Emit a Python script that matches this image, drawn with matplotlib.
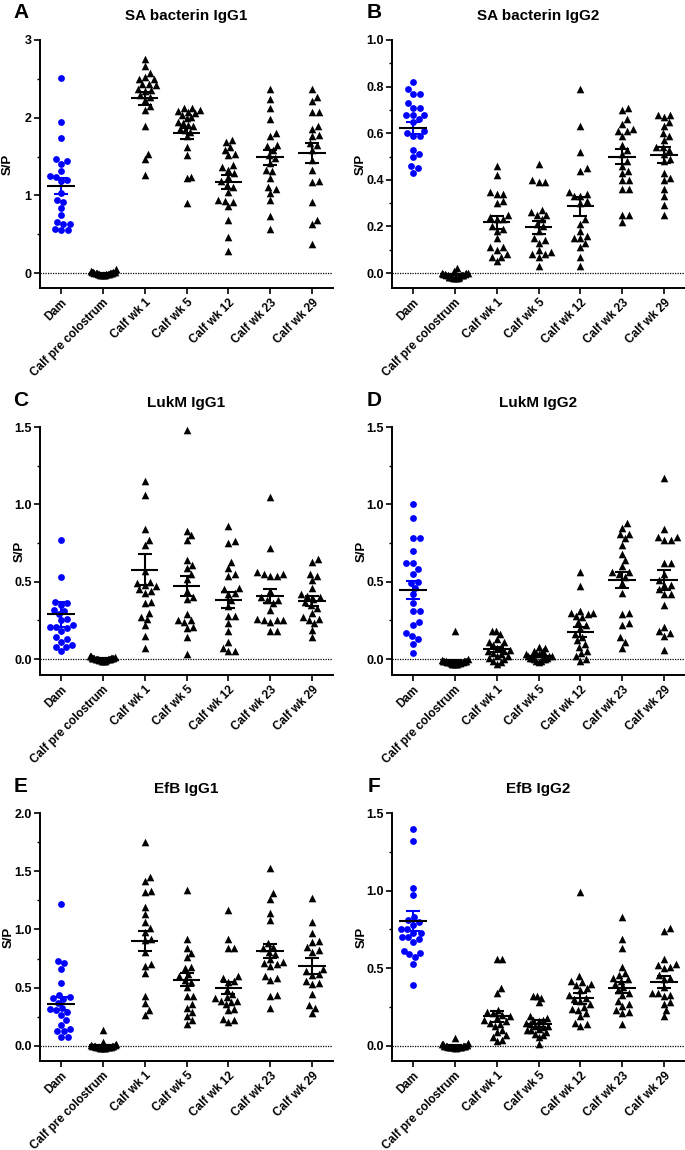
import numpy as np
import matplotlib
matplotlib.use('Agg')
import matplotlib.pyplot as plt
from matplotlib.ticker import MultipleLocator, FormatStrFormatter

plt.rcParams['font.family'] = ['Liberation Sans', 'DejaVu Sans']
plt.rcParams['font.weight'] = 'bold'

# Grupos (eje x)
groups = ['Dam', 'Calf pre colostrum', 'Calf wk 1', 'Calf wk 5',
          'Calf wk 12', 'Calf wk 23', 'Calf wk 29']

# A - SA bacterin IgG1
sa_igg1 = [
    [2.51, 1.95, 1.74, 1.47, 1.45, 1.41, 1.31, 1.25, 1.24, 1.20, 1.18, 1.03, 0.94, 0.92, 0.84, 0.75, 0.66, 0.63, 0.63, 0.57, 0.55, 0.55],
    [0.05, 0.03, 0.02, 0.01, 0.01, 0.01, 0.0, 0.0, 0.0, 0.0, 0.0, 0.0, -0.01, -0.01, -0.01, -0.01, -0.01, -0.02, -0.02, -0.02, -0.02, -0.02],
    [2.75, 2.66, 2.58, 2.52, 2.50, 2.50, 2.44, 2.43, 2.42, 2.37, 2.36, 2.35, 2.29, 2.27, 2.23, 2.15, 2.10, 1.90, 1.54, 1.47, 1.26],
    [2.13, 2.12, 2.10, 2.09, 2.08, 2.06, 2.04, 2.01, 2.00, 1.94, 1.93, 1.91, 1.89, 1.86, 1.84, 1.82, 1.76, 1.63, 1.52, 1.24, 1.23, 0.90],
    [1.72, 1.69, 1.63, 1.59, 1.53, 1.52, 1.39, 1.37, 1.33, 1.29, 1.24, 1.18, 1.14, 1.11, 1.05, 0.94, 0.93, 0.92, 0.86, 0.69, 0.47, 0.28],
    [2.37, 2.24, 2.13, 1.98, 1.80, 1.77, 1.65, 1.64, 1.59, 1.52, 1.48, 1.42, 1.33, 1.31, 1.23, 1.11, 1.08, 1.03, 0.94, 0.73, 0.57],
    [2.37, 2.27, 2.21, 2.08, 2.07, 1.89, 1.86, 1.78, 1.77, 1.67, 1.65, 1.59, 1.46, 1.33, 1.18, 1.17, 0.92, 0.69, 0.63, 0.38],
]
sa_igg1_mean = [1.12, 0.0, 2.25, 1.80, 1.17, 1.49, 1.55]
sa_igg1_sem = [0.105, 0.005, 0.08, 0.07, 0.09, 0.10, 0.13]

# B - SA bacterin IgG2
sa_igg2 = [
    [0.82, 0.79, 0.77, 0.77, 0.73, 0.71, 0.71, 0.68, 0.68, 0.68, 0.66, 0.65, 0.61, 0.60, 0.59, 0.59, 0.53, 0.51, 0.50, 0.46, 0.45, 0.43],
    [0.02, 0.01, 0.005, 0.0, 0.0, 0.0, -0.005, -0.005, -0.005, -0.01, -0.01, -0.01, -0.01, -0.01, -0.015, -0.015, -0.015, -0.015, -0.02, -0.02, -0.02, -0.02],
    [0.46, 0.42, 0.35, 0.34, 0.34, 0.31, 0.30, 0.25, 0.24, 0.23, 0.23, 0.20, 0.19, 0.18, 0.15, 0.11, 0.11, 0.10, 0.08, 0.07, 0.07, 0.05],
    [0.47, 0.40, 0.39, 0.39, 0.27, 0.26, 0.25, 0.25, 0.23, 0.21, 0.20, 0.18, 0.15, 0.14, 0.13, 0.10, 0.09, 0.08, 0.08, 0.07, 0.03],
    [0.79, 0.63, 0.52, 0.45, 0.44, 0.35, 0.34, 0.33, 0.33, 0.31, 0.30, 0.23, 0.21, 0.18, 0.16, 0.15, 0.15, 0.13, 0.11, 0.07, 0.03],
    [0.71, 0.70, 0.66, 0.64, 0.62, 0.61, 0.61, 0.59, 0.55, 0.53, 0.51, 0.48, 0.46, 0.44, 0.43, 0.40, 0.40, 0.36, 0.36, 0.25, 0.25, 0.22],
    [0.68, 0.68, 0.67, 0.65, 0.63, 0.60, 0.59, 0.57, 0.54, 0.54, 0.53, 0.51, 0.49, 0.48, 0.43, 0.41, 0.40, 0.36, 0.33, 0.29, 0.25],
]
sa_igg2_mean = [0.623, -0.005, 0.219, 0.197, 0.286, 0.50, 0.507]
sa_igg2_sem = [0.025, 0.003, 0.028, 0.028, 0.041, 0.032, 0.033]

# C - LukM IgG1
lukm_igg1 = [
    [0.77, 0.53, 0.37, 0.36, 0.35, 0.32, 0.31, 0.29, 0.26, 0.25, 0.22, 0.21, 0.21, 0.20, 0.18, 0.14, 0.13, 0.11, 0.09, 0.08, 0.08, 0.05],
    [0.02, 0.02, 0.015, 0.01, 0.01, 0.01, 0.005, 0.005, 0.005, 0.0, 0.0, 0.0, 0.0, 0.0, 0.0, -0.005, -0.005, -0.005, -0.01, -0.01, -0.01, -0.01],
    [1.15, 1.06, 0.84, 0.77, 0.74, 0.57, 0.50, 0.49, 0.48, 0.47, 0.45, 0.44, 0.43, 0.37, 0.36, 0.30, 0.27, 0.26, 0.22, 0.15, 0.07],
    [1.48, 0.83, 0.80, 0.77, 0.64, 0.61, 0.59, 0.55, 0.52, 0.44, 0.40, 0.39, 0.29, 0.25, 0.25, 0.24, 0.21, 0.20, 0.14, 0.03],
    [0.86, 0.76, 0.75, 0.63, 0.59, 0.55, 0.54, 0.46, 0.45, 0.43, 0.42, 0.38, 0.34, 0.28, 0.28, 0.23, 0.18, 0.11, 0.07, 0.05, 0.05],
    [1.05, 0.72, 0.56, 0.55, 0.55, 0.54, 0.54, 0.44, 0.40, 0.38, 0.38, 0.36, 0.32, 0.26, 0.25, 0.25, 0.25, 0.24, 0.18, 0.18],
    [0.65, 0.63, 0.55, 0.54, 0.51, 0.46, 0.42, 0.41, 0.40, 0.39, 0.37, 0.35, 0.33, 0.30, 0.27, 0.26, 0.25, 0.23, 0.19, 0.14],
]
lukm_igg1_mean = [0.29, 0.005, 0.578, 0.474, 0.38, 0.406, 0.378]
lukm_igg1_sem = [0.08, 0.003, 0.10, 0.065, 0.052, 0.046, 0.032]

# D - LukM IgG2
lukm_igg2 = [
    [1.00, 0.91, 0.78, 0.78, 0.70, 0.62, 0.62, 0.58, 0.55, 0.50, 0.49, 0.46, 0.42, 0.36, 0.31, 0.31, 0.24, 0.22, 0.17, 0.15, 0.13, 0.10, 0.04],
    [0.18, 0.0, -0.005, -0.01, -0.01, -0.01, -0.015, -0.015, -0.015, -0.02, -0.02, -0.02, -0.02, -0.02, -0.025, -0.025, -0.025, -0.03, -0.03, -0.03, -0.03, -0.035],
    [0.18, 0.18, 0.16, 0.13, 0.11, 0.11, 0.09, 0.08, 0.07, 0.06, 0.05, 0.05, 0.04, 0.03, 0.02, 0.02, 0.01, 0.0, -0.01, -0.02, -0.03],
    [0.08, 0.07, 0.05, 0.05, 0.04, 0.04, 0.03, 0.03, 0.02, 0.02, 0.02, 0.01, 0.01, 0.01, 0.0, 0.0, 0.0, -0.01, -0.01, -0.02],
    [0.56, 0.47, 0.31, 0.30, 0.30, 0.29, 0.28, 0.27, 0.24, 0.22, 0.20, 0.16, 0.14, 0.12, 0.10, 0.08, 0.05, 0.04, 0.02, 0.0, -0.01],
    [0.88, 0.85, 0.81, 0.81, 0.78, 0.74, 0.68, 0.64, 0.60, 0.56, 0.56, 0.55, 0.53, 0.49, 0.43, 0.30, 0.29, 0.23, 0.22, 0.14, 0.11, 0.07],
    [1.17, 0.84, 0.79, 0.79, 0.77, 0.77, 0.62, 0.62, 0.55, 0.51, 0.48, 0.48, 0.45, 0.42, 0.42, 0.35, 0.21, 0.18, 0.17, 0.15, 0.06],
]
lukm_igg2_mean = [0.447, -0.015, 0.062, 0.02, 0.175, 0.51, 0.51]
lukm_igg2_sem = [0.058, 0.01, 0.015, 0.006, 0.034, 0.053, 0.064]

# E - EfB IgG1
efb_igg1 = [
    [1.22, 0.73, 0.71, 0.66, 0.54, 0.44, 0.42, 0.41, 0.40, 0.37, 0.33, 0.32, 0.31, 0.29, 0.27, 0.22, 0.18, 0.15, 0.13, 0.13, 0.08, 0.08],
    [0.14, 0.03, 0.02, 0.01, 0.01, 0.0, 0.0, 0.0, 0.0, 0.0, -0.005, -0.005, -0.005, -0.01, -0.01, -0.01, -0.01, -0.015, -0.015, -0.015, -0.02, -0.02],
    [1.75, 1.45, 1.42, 1.33, 1.32, 1.19, 1.13, 1.06, 1.01, 0.98, 0.92, 0.91, 0.81, 0.70, 0.69, 0.63, 0.43, 0.37, 0.31, 0.27],
    [1.34, 0.92, 0.84, 0.80, 0.76, 0.68, 0.67, 0.62, 0.60, 0.57, 0.55, 0.51, 0.43, 0.43, 0.36, 0.33, 0.29, 0.26, 0.22, 0.19],
    [1.17, 0.92, 0.84, 0.84, 0.60, 0.58, 0.56, 0.55, 0.48, 0.45, 0.42, 0.41, 0.39, 0.39, 0.38, 0.36, 0.32, 0.31, 0.23, 0.22, 0.21],
    [1.53, 1.31, 1.26, 1.14, 1.08, 0.88, 0.85, 0.84, 0.81, 0.79, 0.75, 0.72, 0.71, 0.70, 0.69, 0.60, 0.58, 0.57, 0.44, 0.43, 0.33],
    [1.27, 1.06, 0.97, 0.90, 0.89, 0.85, 0.82, 0.81, 0.66, 0.64, 0.62, 0.61, 0.56, 0.54, 0.53, 0.45, 0.35, 0.33, 0.28],
]
efb_igg1_mean = [0.363, 0.005, 0.90, 0.57, 0.497, 0.816, 0.687]
efb_igg1_sem = [0.055, 0.007, 0.085, 0.055, 0.05, 0.062, 0.065]

# F - EfB IgG2
efb_igg2 = [
    [1.40, 1.32, 1.02, 0.97, 0.83, 0.81, 0.80, 0.78, 0.75, 0.75, 0.73, 0.73, 0.70, 0.70, 0.69, 0.67, 0.61, 0.60, 0.59, 0.57, 0.53, 0.39],
    [0.05, 0.02, 0.01, 0.01, 0.005, 0.0, 0.0, 0.0, 0.0, 0.0, 0.0, -0.005, -0.005, -0.005, -0.005, -0.01, -0.01, -0.01, -0.01, -0.01, -0.015, -0.015],
    [0.56, 0.56, 0.37, 0.34, 0.23, 0.22, 0.21, 0.20, 0.19, 0.18, 0.17, 0.16, 0.15, 0.14, 0.13, 0.10, 0.09, 0.07, 0.06, 0.04, 0.03],
    [0.32, 0.32, 0.31, 0.28, 0.19, 0.18, 0.17, 0.17, 0.16, 0.15, 0.14, 0.13, 0.13, 0.12, 0.11, 0.10, 0.10, 0.09, 0.08, 0.07, 0.06, 0.01],
    [0.99, 0.45, 0.42, 0.41, 0.40, 0.39, 0.37, 0.36, 0.33, 0.31, 0.30, 0.29, 0.27, 0.25, 0.24, 0.23, 0.21, 0.19, 0.15, 0.14, 0.13],
    [0.83, 0.69, 0.63, 0.51, 0.47, 0.46, 0.44, 0.43, 0.42, 0.40, 0.38, 0.36, 0.34, 0.33, 0.29, 0.27, 0.26, 0.23, 0.22, 0.21, 0.14],
    [0.76, 0.74, 0.56, 0.53, 0.52, 0.51, 0.50, 0.46, 0.44, 0.43, 0.38, 0.34, 0.34, 0.33, 0.32, 0.28, 0.27, 0.23, 0.19],
]
efb_igg2_mean = [0.806, 0.0, 0.19, 0.143, 0.306, 0.376, 0.413]
efb_igg2_sem = [0.065, 0.003, 0.034, 0.024, 0.035, 0.036, 0.037]

# letra, titulo, datos, media, sem, ylim, paso mayor, paso menor, formato
panels = [
    ('A', 'SA bacterin IgG1', sa_igg1, sa_igg1_mean, sa_igg1_sem, (-0.19, 3.0), 1.0, 0.5, '%d'),
    ('B', 'SA bacterin IgG2', sa_igg2, sa_igg2_mean, sa_igg2_sem, (-0.064, 1.0), 0.2, 0.1, '%.1f'),
    ('C', 'LukM IgG1', lukm_igg1, lukm_igg1_mean, lukm_igg1_sem, (-0.103, 1.5), 0.5, 0.25, '%.1f'),
    ('D', 'LukM IgG2', lukm_igg2, lukm_igg2_mean, lukm_igg2_sem, (-0.103, 1.5), 0.5, 0.25, '%.1f'),
    ('E', 'EfB IgG1', efb_igg1, efb_igg1_mean, efb_igg1_sem, (-0.129, 2.0), 0.5, 0.25, '%.1f'),
    ('F', 'EfB IgG2', efb_igg2, efb_igg2_mean, efb_igg2_sem, (-0.097, 1.5), 0.5, 0.25, '%.1f'),
]

W, H = 685, 1150
col_left = [40, 392]
row_top = [40, 427, 813]
aw, ah = 293, 248
ylabel_x = [[8, 361], [20, 362], [9, 362]]
letter_x = [21, 374]


def swarm(vals, ypx, d=6.6, max_off=13.0):
    # desplazamientos horizontales tipo beeswarm (en pixeles)
    y = np.asarray(vals, dtype=float) * ypx
    px, py = [], []
    off = np.zeros(len(y))
    for i in np.argsort(y):
        cands = [0.0]
        for x0, y0 in zip(px, py):
            dy = y[i] - y0
            if abs(dy) < d:
                dx = np.sqrt(d * d - dy * dy)
                cands += [x0 + dx, x0 - dx]
        cands.sort(key=abs)
        for c in cands:
            if all((c - x0) ** 2 + (y[i] - y0) ** 2 >= d * d - 1e-6 for x0, y0 in zip(px, py)):
                break
        off[i] = c
        px.append(c)
        py.append(y[i])
    m = np.abs(off).max()
    if m > max_off:
        off *= max_off / m
    return off


fig = plt.figure(figsize=(W / 100, H / 100), dpi=100)

for k, (letter, title, data, means, sems, ylim, major, minor, fmt) in enumerate(panels):
    r, c = k // 2, k % 2
    left, top = col_left[c], row_top[r]
    ax = fig.add_axes([left / W, 1 - (top + ah) / H, aw / W, ah / H])
    ax.set_xlim(-0.5, 6.5)
    ax.set_ylim(*ylim)
    xpx = aw / 7.0
    ypx = ah / (ylim[1] - ylim[0])

    ax.axhline(0, color='black', lw=0.9, ls=(0, (1, 1)), zorder=1)

    for i, vals in enumerate(data):
        off = swarm(vals, ypx) / xpx
        if i == 0:
            ax.scatter(i + off, vals, s=24, marker='o', color='#0000ff', lw=0, zorder=3)
            ecol = '#0000ff'
        else:
            ax.scatter(i + off, vals, s=30, marker='^', color='black', lw=0, zorder=3)
            ecol = 'black'
        ax.errorbar(i, means[i], yerr=sems[i], fmt='none', ecolor=ecol,
                    elinewidth=1.5, capsize=5, capthick=1.5, zorder=4)
        ax.hlines(means[i], i - 0.33, i + 0.33, color='black', lw=1.5, zorder=5)

    # ejes
    for s in ['top', 'right']:
        ax.spines[s].set_visible(False)
    for s in ['left', 'bottom']:
        ax.spines[s].set_linewidth(1.4)
    ax.yaxis.set_major_locator(MultipleLocator(major))
    ax.yaxis.set_minor_locator(MultipleLocator(minor))
    ax.yaxis.set_major_formatter(FormatStrFormatter(fmt))
    ax.set_xticks(range(len(groups)))
    ax.set_xticklabels(groups, rotation=45, ha='right', rotation_mode='anchor')
    ax.tick_params(axis='both', which='major', direction='out', length=4, width=1.2,
                   labelsize=9, pad=2)
    ax.tick_params(axis='y', which='minor', direction='out', length=2.5, width=1.0)
    ax.tick_params(axis='x', which='major', pad=2, labelsize=8.5)

    # textos
    cx = (left + aw / 2) / W
    fig.text(cx, 1 - (top - 24) / H, title, ha='center', va='center', fontsize=11, fontweight='bold')
    fig.text(letter_x[c] / W, 1 - (top - 27) / H, letter, ha='center', va='center',
             fontsize=15, fontweight='bold')
    fig.text(ylabel_x[r][c] / W, 1 - (top + ah / 2) / H, 'S/P', rotation=90,
             ha='center', va='center', fontsize=9.5, fontweight='bold')

fig.savefig('out.png', dpi=100)
